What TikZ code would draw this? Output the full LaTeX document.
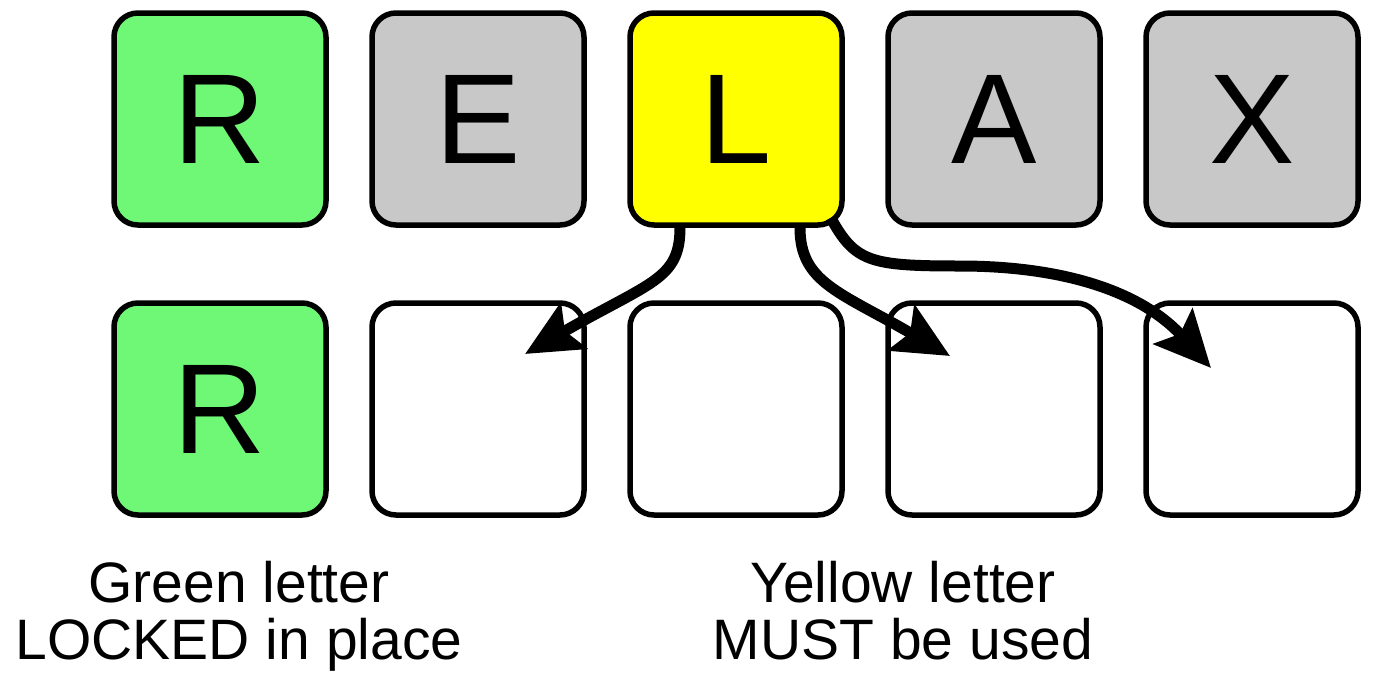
\documentclass[tikz,border=0pt]{standalone}
\usepackage{fontspec}
\setmainfont{Liberation Sans}
\usetikzlibrary{arrows.meta}
\definecolor{tgreen}{HTML}{6FF776}
\definecolor{tgray}{HTML}{C8C8C8}
\definecolor{tyellow}{HTML}{FFFF00}
\tikzset{
  tile/.style={draw=black, line width=5.5pt, rounded corners=24pt,
    minimum width=212pt, minimum height=212pt, inner sep=0pt,
    font=\fontsize{128}{128}\selectfont},
  arr/.style={line width=11pt, -{Stealth[length=56pt,width=52pt,inset=10pt]}},
  lbl/.style={align=center, inner sep=0pt, font=\fontsize{57}{57}\selectfont}
}
\begin{document}
\begin{tikzpicture}[x=1pt,y=-1pt]
\useasboundingbox (0,0) rectangle (1374,686);
% top row
\node[tile, fill=tgreen]  (t1) at (220,119) {R};
\node[tile, fill=tgray]   (t2) at (478,119) {E};
\node[tile, fill=tyellow] (t3) at (736,119) {L};
\node[tile, fill=tgray]   (t4) at (994,119) {A};
\node[tile, fill=tgray]   (t5) at (1252,119) {X};
% bottom row
\node[tile, fill=tgreen] (b1) at (220,409) {R};
\node[tile, fill=white]  (b2) at (478,409) {};
\node[tile, fill=white]  (b3) at (736,409) {};
\node[tile, fill=white]  (b4) at (994,409) {};
\node[tile, fill=white]  (b5) at (1252,409) {};
% arrow end points
\coordinate (s1) at ([xshift=-56pt]t3.south);
\coordinate (s2) at ([xshift=64pt]t3.south);
\coordinate (s3) at ([xshift=-14pt,yshift=10pt]t3.south east);
\coordinate (e1) at ([xshift=47pt,yshift=55pt]b2.center);
\coordinate (e2) at ([xshift=-44pt,yshift=53pt]b4.center);
\coordinate (e3) at ([xshift=-41pt,yshift=41pt]b5.center);
\draw[arr] (s1) .. controls +(0,52) and (650,282) .. (e1);
\draw[arr] (s2) .. controls +(0,55) and (840,292) .. (e2);
\draw[arr] (s3) .. controls (855,262) and (870,266) .. (960,266)
  .. controls (1060,266) and (1140,290) .. (e3);
% labels
\node[lbl, anchor=north] (g) at (239,561) {Green letter\\LOCKED in place};
\node[lbl, anchor=north] (y) at (903,561) {Yellow letter\\MUST be used};
\end{tikzpicture}
\end{document}
